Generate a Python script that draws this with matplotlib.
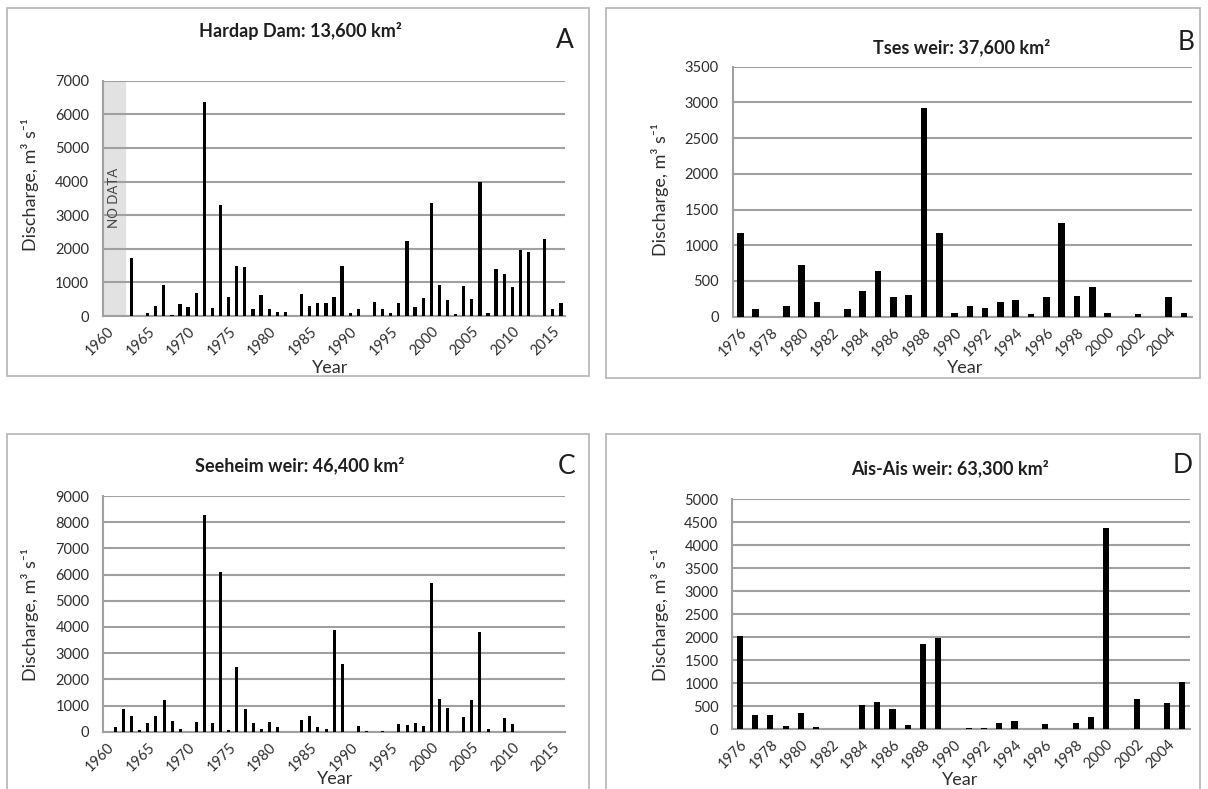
import matplotlib
matplotlib.use("Agg")
import matplotlib.pyplot as plt
from matplotlib.patches import Rectangle
import numpy as np

plt.rcParams['font.family'] = ['Lato', 'DejaVu Sans']

# ---- Hardap Dam (1960-2016) ----
hardap_years = list(range(1960, 2017))
hardap_q = [0, 0, 0, 1720, 0, 80, 300, 910, 30, 350,
            280, 670, 6370, 230, 3310, 575, 1500, 1445, 220, 625,
            220, 110, 110, 0, 645, 305, 375, 375, 575, 1500,
            100, 220, 0, 425, 200, 100, 395, 2230, 255, 535,
            3375, 910, 465, 60, 880, 495, 3980, 100, 1385, 1255,
            850, 1960, 1900, 0, 2280, 220, 375]

# ---- Tses weir (1976-2005) ----
tses_years = list(range(1976, 2006))
tses_q = [1175, 110, 0, 150, 720, 210, 0, 105, 355, 635,
          280, 310, 2915, 1175, 55, 145, 125, 210, 235, 35,
          280, 1310, 295, 410, 55, 0, 35, 0, 275, 55]

# ---- Seeheim weir (1960-2016) ----
seeheim_years = list(range(1960, 2017))
seeheim_q = [0, 165, 850, 600, 65, 345, 585, 1210, 420, 115,
             0, 380, 8280, 345, 6110, 65, 2470, 850, 330, 90,
             370, 180, 0, 0, 445, 600, 190, 115, 3890, 2570,
             0, 215, 30, 0, 40, 0, 295, 255, 320, 230,
             5660, 1260, 890, 0, 545, 1220, 3790, 115, 0, 510,
             305, 0, 0, 0, 0, 0, 0]

# ---- Ais-Ais weir (1976-2005) ----
aisais_years = list(range(1976, 2006))
aisais_q = [2020, 320, 310, 80, 355, 45, 0, 0, 535, 600,
            435, 85, 1855, 1980, 0, 30, 35, 130, 180, 0,
            115, 0, 130, 260, 4370, 15, 650, 0, 565, 1030]

FIG_W, FIG_H = 1208, 789
fig = plt.figure(figsize=(FIG_W / 100, FIG_H / 100), dpi=100)
fig.patch.set_facecolor('white')


def px(x, y):
    return x / FIG_W, 1 - y / FIG_H


def add_axes_px(left, top, right, bottom):
    return fig.add_axes([left / FIG_W, 1 - bottom / FIG_H,
                         (right - left) / FIG_W, (bottom - top) / FIG_H])


GRID = '#a0a0a0'
TEXT = '#1e1e1e'
LABEL = '#2e2e2e'
YLABEL = 'Discharge, m\u00b3 s\u207b\u00b9'


def style_axes(ax, ymax, ystep, years, tick_years):
    ax.set_ylim(0, ymax)
    ax.set_xlim(years[0] - 0.5, years[-1] + 0.5)
    ax.set_yticks(np.arange(0, ymax + 1, ystep))
    ax.yaxis.grid(True, color=GRID, linewidth=1.5)
    ax.set_axisbelow(True)
    for s in ['top', 'right']:
        ax.spines[s].set_visible(False)
    for s in ['left', 'bottom']:
        ax.spines[s].set_color(GRID)
        ax.spines[s].set_linewidth(1.5)
    ax.set_xticks(tick_years)
    ax.set_xticklabels([str(t) for t in tick_years], rotation=45,
                       ha='right', rotation_mode='anchor', fontsize=10.5,
                       color=LABEL)
    ax.tick_params(axis='both', length=0, labelsize=10.5, colors=LABEL)
    ax.tick_params(axis='x', pad=6)
    ax.tick_params(axis='y', pad=10)


def panel_frame(left, top, right, bottom):
    x0, y0 = px(left, bottom)
    fig.add_artist(Rectangle((x0, y0), (right - left) / FIG_W,
                             (bottom - top) / FIG_H, transform=fig.transFigure,
                             fill=False, edgecolor='#b4b4b4', linewidth=1.2))


def ftext(x, y, s, **kw):
    fx, fy = px(x, y)
    fig.text(fx, fy, s, **kw)


def panel_texts(title, tx, ty, letter, lx, ly, yx, yy, ylx, yly):
    ftext(tx, ty, title, ha='center', va='center', fontsize=13,
          fontweight='bold', color=TEXT)
    ftext(lx, ly, letter, ha='center', va='center', fontsize=19, color=TEXT)
    ftext(yx, yy, 'Year', ha='center', va='center', fontsize=13, color=LABEL)
    ftext(ylx, yly, YLABEL, ha='center', va='center', rotation=90,
          fontsize=13, color=LABEL)


# panel borders
panel_frame(7, 8, 589, 376)
panel_frame(606, 8, 1200, 378)
panel_frame(7, 434, 589, 792)
panel_frame(606, 434, 1200, 792)

# ---- A ----
axA = add_axes_px(103, 80.7, 565, 316)
axA.axvspan(1959.5, 1962.2, color='#e2e2e2', zorder=0.5)
axA.bar(hardap_years, hardap_q, width=0.4, color='black', zorder=3)
style_axes(axA, 7000, 1000, hardap_years, list(range(1960, 2016, 5)))
axA.text(0.024, 0.5, 'NO DATA', transform=axA.transAxes, rotation=90,
         ha='center', va='center', fontsize=9.5, color='#444444')
panel_texts('Hardap Dam: 13,600 km\u00b2', 300, 31, 'A', 565, 40,
            330, 368, 30, 185)

# ---- B ----
axB = add_axes_px(732.7, 66.7, 1191.7, 316.7)
axB.bar(tses_years, tses_q, width=0.43, color='black', zorder=3)
style_axes(axB, 3500, 500, tses_years, list(range(1976, 2006, 2)))
panel_texts('Tses weir: 37,600 km\u00b2', 962, 47, 'B', 1186, 42,
            965, 368, 660, 190)

# ---- C ----
axC = add_axes_px(103.3, 496, 565, 731.7)
axC.bar(seeheim_years, seeheim_q, width=0.37, color='black', zorder=3)
style_axes(axC, 9000, 1000, seeheim_years, list(range(1960, 2016, 5)))
panel_texts('Seeheim weir: 46,400 km\u00b2', 300, 465, 'C', 567, 467,
            335, 779, 30, 615)

# ---- D ----
axD = add_axes_px(732.3, 499.3, 1190, 729.3)
axD.bar(aisais_years, aisais_q, width=0.4, color='black', zorder=3)
style_axes(axD, 5000, 500, aisais_years, list(range(1976, 2006, 2)))
panel_texts('Ais-Ais weir: 63,300 km\u00b2', 950, 468, 'D', 1183, 465,
            960, 780, 660, 615)

fig.savefig('out.png', dpi=100, facecolor='white')
